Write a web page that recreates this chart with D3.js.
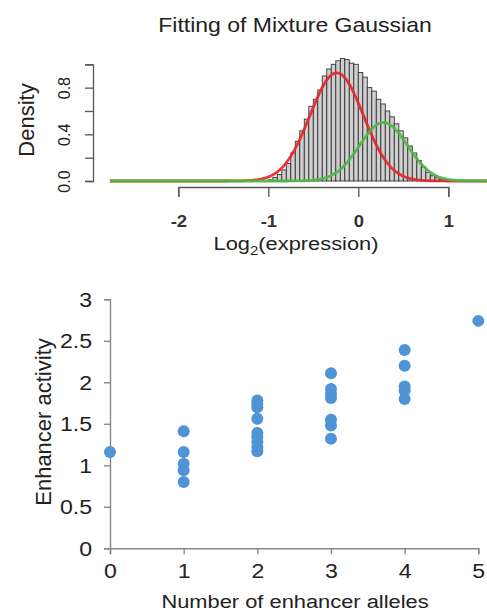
<!DOCTYPE html>
<html>
<head>
<meta charset="utf-8">
<script src="https://cdn.jsdelivr.net/npm/d3@7"></script>
<style>
  body { margin: 0; background: #fff; }
  svg { display: block; font-family: "Liberation Sans", Arial, sans-serif; }
</style>
</head>
<body>
<script>
// histogram of log2(expression), bin width 0.05 from -1 to 1
var binStarts = [-1.00, -0.95, -0.90, -0.85, -0.80, -0.75, -0.70, -0.65, -0.60, -0.55,
                 -0.50, -0.45, -0.40, -0.35, -0.30, -0.25, -0.20, -0.15, -0.10, -0.05,
                  0.00,  0.05,  0.10,  0.15,  0.20,  0.25,  0.30,  0.35,  0.40,  0.45,
                  0.50,  0.55,  0.60,  0.65,  0.70,  0.75,  0.80,  0.85,  0.90,  0.95];
var binDensity = [0.01, 0.03, 0.055, 0.095, 0.15, 0.24, 0.34, 0.43, 0.53, 0.64,
                  0.70, 0.78, 0.90, 0.96, 1.00, 1.03, 1.05, 1.04, 1.01, 1.00,
                  0.93, 0.89, 0.80, 0.77, 0.70, 0.66, 0.60, 0.55, 0.49, 0.43,
                  0.37, 0.30, 0.24, 0.175, 0.12, 0.075, 0.045, 0.028, 0.015, 0.006];
var binWidth = 0.05;

// fitted mixture components (red, green)
var compMean = [-0.24, 0.28];
var compSd = [0.297, 0.267];
var compWeight = [0.69, 0.335];
var compColor = ["#e8262a", "#4cb847"];

var topYTicks = [0, 0.2, 0.4, 0.6, 0.8, 1.0];
var topYLabels = ["0.0", "", "0.4", "", "0.8", ""];
var topXTicks = [-2, -1, 0, 1];
var topXLabels = ["-2", "-1", "0", "1"];

// scatter: enhancer alleles vs activity
var alleles  = [0, 1, 1, 1, 1, 1, 2, 2, 2, 2, 2, 2, 2, 2, 2,
                3, 3, 3, 3, 3, 3, 3, 4, 4, 4, 4, 4, 5];
var activity = [1.16, 1.41, 1.16, 1.02, 0.94, 0.80, 1.78, 1.74, 1.70, 1.56, 1.39, 1.34, 1.28, 1.22, 1.17,
                2.11, 1.92, 1.86, 1.81, 1.55, 1.48, 1.32, 2.39, 2.20, 1.95, 1.90, 1.80, 2.74];
var botXTicks = [0, 1, 2, 3, 4, 5];
var botYTicks = [0, 0.5, 1, 1.5, 2, 2.5, 3];

var W = 487, H = 614;
var sx = 1.15; // the picture is a bit wider than tall, text too

var svg = d3.select("body").append("svg")
    .attr("width", W)
    .attr("height", H);

function label(x, y, size, txt, k) {
  return svg.append("text")
      .attr("transform", "translate(" + x + "," + y + ") scale(" + (k || sx) + ",1)")
      .attr("text-anchor", "middle")
      .style("font-size", size + "px")
      .style("fill", "#222")
      .text(txt);
}

// ---------- top panel ----------
var xTop = d3.scaleLinear().domain([-2, 1]).range([178.3, 448.3]);
var yTop = d3.scaleLinear().domain([0, 1]).range([181, 64.3]);

label(295, 32, 20, "Fitting of Mixture Gaussian");

svg.append("g").selectAll("rect")
    .data(binStarts)
  .enter().append("rect")
    .attr("x", function (d) { return xTop(d); })
    .attr("y", function (d, i) { return yTop(binDensity[i]); })
    .attr("width", xTop(binWidth) - xTop(0))
    .attr("height", function (d, i) { return yTop(0) - yTop(binDensity[i]); })
    .attr("fill", "#cfcfcf")
    .attr("stroke", "#333")
    .attr("stroke-width", 0.9);

var curveX = d3.range(-2.76, 1.6, 0.01);
compMean.forEach(function (m, k) {
  var line = d3.line()
      .x(function (x) { return xTop(x); })
      .y(function (x) {
        var z = (x - m) / compSd[k];
        return yTop(compWeight[k] / (compSd[k] * Math.sqrt(2 * Math.PI)) * Math.exp(-0.5 * z * z));
      });
  svg.append("path")
      .datum(curveX)
      .attr("d", line)
      .attr("fill", "none")
      .attr("stroke", compColor[k])
      .attr("stroke-width", 2.8)
      .attr("opacity", 0.92);
});

var yAxisTop = svg.append("g")
    .attr("transform", "translate(93,0)")
    .call(d3.axisLeft(yTop).tickValues(topYTicks).tickSizeOuter(0).tickSize(8)
      .tickFormat(function (d, i) { return topYLabels[i]; }));
yAxisTop.select(".domain").attr("stroke", "#555").attr("stroke-width", 1.3);
yAxisTop.selectAll(".tick line").attr("stroke", "#555").attr("stroke-width", 1.3);
yAxisTop.selectAll(".tick text")
    .attr("x", 0).attr("dy", 0)
    .attr("transform", "translate(-23,0) rotate(-90)")
    .attr("text-anchor", "middle")
    .style("font-size", "16px")
    .style("fill", "#222");

var xAxisTop = svg.append("g")
    .attr("transform", "translate(0,187)")
    .call(d3.axisBottom(xTop).tickValues(topXTicks).tickSizeOuter(0).tickSize(10)
      .tickFormat(function (d, i) { return topXLabels[i]; }));
xAxisTop.select(".domain").attr("stroke", "#555").attr("stroke-width", 1.3);
xAxisTop.selectAll(".tick line").attr("stroke", "#555").attr("stroke-width", 1.3);
xAxisTop.selectAll(".tick text")
    .attr("y", 0).attr("dy", 0)
    .attr("transform", "translate(0,40) scale(" + sx + ",1)")
    .style("font-size", "16px")
    .style("font-weight", "bold")
    .style("fill", "#333");

svg.append("text")
    .attr("transform", "translate(34,120) rotate(-90)")
    .attr("text-anchor", "middle")
    .style("font-size", "22px")
    .style("fill", "#222")
    .text("Density");

var xLab = label(296, 250, 19, "");
xLab.append("tspan").text("Log");
xLab.append("tspan").attr("dy", 5).style("font-size", "13px").text("2");
xLab.append("tspan").attr("dy", -5).text("(expression)");

// ---------- bottom panel ----------
var xBot = d3.scaleLinear().domain([0, 5]).range([110, 478.3]);
var yBot = d3.scaleLinear().domain([0, 3]).range([548.3, 299.3]);

var yAxisBot = svg.append("g")
    .attr("transform", "translate(110,0)")
    .call(d3.axisLeft(yBot).tickValues(botYTicks).tickSizeOuter(0).tickSize(6)
      .tickFormat(function (d) { return String(d); }));
yAxisBot.select(".domain").attr("stroke", "#888").attr("stroke-width", 1.4);
yAxisBot.selectAll(".tick line").attr("stroke", "#888").attr("stroke-width", 1.4);
yAxisBot.selectAll(".tick text")
    .attr("x", 0)
    .attr("transform", "translate(-18,0) scale(1.1,1)")
    .style("font-size", "21px")
    .style("fill", "#222");

var xAxisBot = svg.append("g")
    .attr("transform", "translate(0,548.3)")
    .call(d3.axisBottom(xBot).tickValues(botXTicks).tickSizeOuter(0).tickSize(6)
      .tickFormat(d3.format("d")));
xAxisBot.select(".domain").attr("stroke", "#888").attr("stroke-width", 1.4);
xAxisBot.selectAll(".tick line").attr("stroke", "#888").attr("stroke-width", 1.4);
xAxisBot.selectAll(".tick text")
    .attr("y", 15)
    .attr("transform", "scale(1.1,1)")
    .style("font-size", "21px")
    .style("fill", "#222");

svg.append("g").selectAll("circle")
    .data(activity)
  .enter().append("circle")
    .attr("cx", function (d, i) { return xBot(alleles[i]); })
    .attr("cy", function (d) { return yBot(d); })
    .attr("r", 6)
    .attr("fill", "#4f94d6");

svg.append("text")
    .attr("transform", "translate(51,422) rotate(-90)")
    .attr("text-anchor", "middle")
    .style("font-size", "22px")
    .style("fill", "#222")
    .text("Enhancer activity");

label(295, 608, 19, "Number of enhancer alleles");
</script>
</body>
</html>
